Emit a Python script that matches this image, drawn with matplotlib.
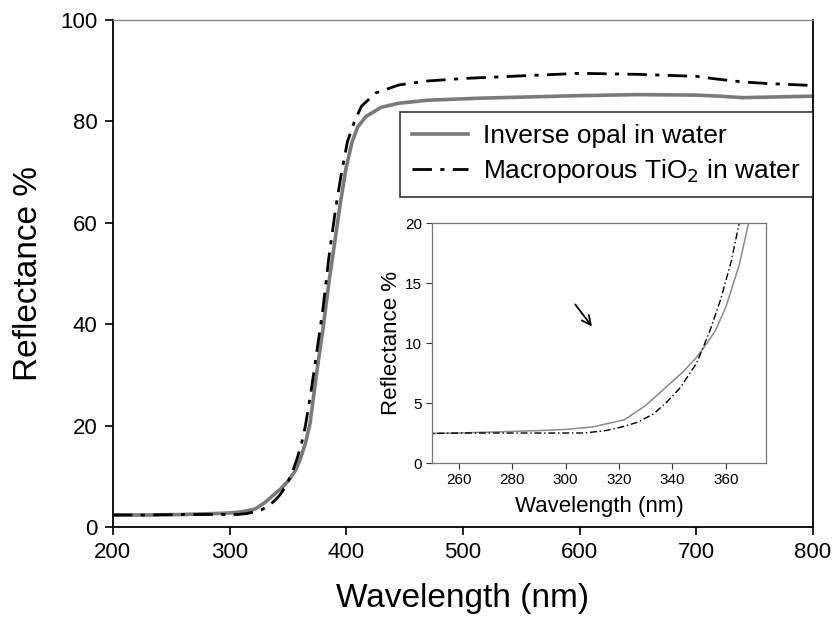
import matplotlib.pyplot as plt

plt.rcParams['font.family'] = ['Liberation Sans', 'DejaVu Sans']

# Inverse opal in water (grey solid)
wl_opal = [200, 230, 260, 290, 300, 310, 322, 330, 338, 344, 349, 353, 356, 360, 365, 369,
           375, 380, 385, 390, 395, 400, 405, 410, 417, 430, 445, 470, 515, 600, 650, 700,
           720, 740, 760, 800]
r_opal = [2.4, 2.4, 2.5, 2.7, 2.8, 3.0, 3.6, 4.8, 6.4, 7.6, 8.8, 10.0, 11.0, 13.0, 16.5, 20.5,
          31, 39, 48, 56, 64, 71, 76, 79, 81, 82.8, 83.6, 84.2, 84.6, 85.1, 85.3, 85.2,
          85.0, 84.7, 84.8, 85.0]

# Macroporous TiO2 in water (black dash-dot)
wl_tio2 = [200, 230, 260, 290, 307, 315, 321, 327, 333, 338, 343, 349, 354, 358, 362, 365,
           370, 375, 380, 385, 391, 396, 401, 407, 413, 425, 445, 470, 502, 550, 600, 650,
           700, 720, 740, 760, 800]
r_tio2 = [2.4, 2.4, 2.5, 2.5, 2.5, 2.7, 3.0, 3.4, 4.1, 5.1, 6.3, 8.3, 11.0, 13.6, 16.8, 20,
          27, 35, 43, 53, 63, 70, 76, 80, 83, 85.6, 87.2, 88.0, 88.5, 89.0, 89.5, 89.3,
          88.9, 88.3, 87.8, 87.5, 87.1]

x_ticks = [200, 300, 400, 500, 600, 700, 800]
y_ticks = [0, 20, 40, 60, 80, 100]
inset_x_ticks = [260, 280, 300, 320, 340, 360]
inset_y_ticks = [0, 5, 10, 15, 20]

fig = plt.figure(figsize=(8.36, 6.18), dpi=100)
ax = fig.add_axes([0.135, 0.147, 0.8375, 0.8205])

ax.plot(wl_opal, r_opal, color='#7a7a7a', lw=2.6, label='Inverse opal in water')
ax.plot(wl_tio2, r_tio2, color='black', lw=2.0, dashes=(7, 3, 1.5, 3),
        label='Macroporous TiO$_2$ in water')

ax.set_xlim(200, 800)
ax.set_ylim(0, 100)
ax.set_xticks(x_ticks)
ax.set_yticks(y_ticks)
ax.tick_params(direction='out', length=6, width=1.2, labelsize=16, pad=5,
               top=False, right=False)
ax.set_xlabel('Wavelength (nm)', fontsize=24, labelpad=14)
ax.set_ylabel('Reflectance %', fontsize=24, labelpad=12)
for s in ['left', 'bottom', 'right']:
    ax.spines[s].set_linewidth(1.3)
    ax.spines[s].set_color('black')
ax.spines['top'].set_color('#888888')
ax.spines['top'].set_linewidth(1.0)

leg = ax.legend(loc='upper right', bbox_to_anchor=(1.0, 0.818), fontsize=19,
                frameon=True, fancybox=False, edgecolor='black', handlelength=2.1,
                borderpad=0.45, labelspacing=0.35, handletextpad=0.6, borderaxespad=0)
leg.get_frame().set_linewidth(1.2)

# inset
ins = fig.add_axes([0.5167, 0.2508, 0.3995, 0.3883])
ins.plot(wl_opal, r_opal, color='#8a8a8a', lw=1.1)
ins.plot(wl_tio2, r_tio2, color='black', lw=1.0, dashes=(5, 2, 1, 2))
ins.set_xlim(250, 375)
ins.set_ylim(0, 20)
ins.set_xticks(inset_x_ticks)
ins.set_yticks(inset_y_ticks)
ins.tick_params(direction='out', length=4, width=0.8, labelsize=11, colors='#333333',
                labelcolor='black', pad=3)
ins.set_xlabel('Wavelength (nm)', fontsize=16, labelpad=7)
ins.set_ylabel('Reflectance %', fontsize=16, labelpad=2)
for s in ins.spines.values():
    s.set_color('#777777')
    s.set_linewidth(0.9)

ins.annotate('', xy=(310.5, 11.2), xytext=(303, 13.4),
             arrowprops=dict(arrowstyle='->', color='black', lw=1.3, mutation_scale=16))

fig.savefig('out.png', dpi=100)
